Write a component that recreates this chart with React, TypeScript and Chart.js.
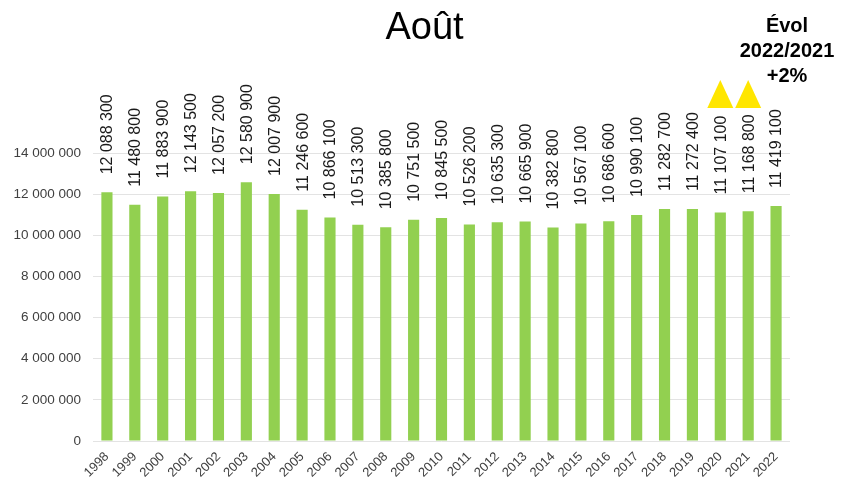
import React, { useEffect, useRef } from "react";
import { Chart, registerables } from "chart.js";

Chart.register(...registerables);

const years = ["1998","1999","2000","2001","2002","2003","2004","2005","2006","2007","2008","2009","2010","2011","2012","2013","2014","2015","2016","2017","2018","2019","2020","2021","2022"];
const visitors = [12088300,11480800,11883900,12143500,12057200,12580900,12007900,11246600,10866100,10513300,10385800,10751500,10845500,10526200,10635300,10665900,10382800,10567100,10686600,10990100,11282700,11272400,11107100,11168800,11419100];
const highlightYears = ["2020", "2021"];
const titleText = "Août";
const evolLines = ["Évol", "2022/2021", "+2%"];
const yTicks = [0, 2000000, 4000000, 6000000, 8000000, 10000000, 12000000, 14000000];

const fmt = (v: number) => String(Math.round(v)).replace(/\B(?=(\d{3})+(?!\d))/g, " ");

const FONT = "'Liberation Sans', Arial, sans-serif";

const overlayPlugin = {
  id: "overlay",
  afterDraw(chart: any) {
    const { ctx, scales } = chart;
    const x = scales.x;
    const meta = chart.getDatasetMeta(0);
    ctx.save();
    // value labels
    ctx.fillStyle = "#1a1a1a";
    ctx.font = `16px ${FONT}`;
    ctx.textAlign = "left";
    ctx.textBaseline = "middle";
    meta.data.forEach((bar: any, i: number) => {
      ctx.save();
      ctx.translate(bar.x, bar.y - 18);
      ctx.rotate(-Math.PI / 2);
      ctx.fillText(fmt(visitors[i]), 0, 1);
      ctx.restore();
    });
    // triangles
    ctx.fillStyle = "#FFE600";
    const top = chart.chartArea.top;
    highlightYears.forEach((yr) => {
      const idx = years.indexOf(yr);
      const cx = x.getPixelForValue(idx);
      ctx.beginPath();
      ctx.moveTo(cx - 13, top - 45);
      ctx.lineTo(cx + 13, top - 45);
      ctx.lineTo(cx, top - 73);
      ctx.closePath();
      ctx.fill();
    });
    // title
    ctx.fillStyle = "#000";
    ctx.font = `38px ${FONT}`;
    ctx.textAlign = "center";
    ctx.textBaseline = "alphabetic";
    ctx.fillText(titleText, chart.width / 2 + 1, 39);
    // evol text
    ctx.font = `bold 20px ${FONT}`;
    evolLines.forEach((t, i) => {
      ctx.fillText(t, 787, 32 + i * 25);
    });
    ctx.restore();
  },
};

export default function App() {
  const ref = useRef<HTMLCanvasElement>(null);
  useEffect(() => {
    if (!ref.current) return;
    const chart = new Chart(ref.current, {
      type: "bar",
      data: {
        labels: years,
        datasets: [
          {
            data: visitors,
            backgroundColor: "#92D050",
            barPercentage: 0.8,
            categoryPercentage: 0.5,
          },
        ],
      },
      options: {
        animation: false,
        responsive: true,
        maintainAspectRatio: false,
        layout: { padding: { top: 153, right: 57, left: 0, bottom: 0 } },
        plugins: {
          legend: { display: false },
          title: { display: false },
          tooltip: { enabled: false },
        },
        scales: {
          x: {
            grid: { display: false },
            border: { display: false },
            ticks: {
              color: "#404040",
              font: { family: FONT, size: 13 },
              minRotation: 45,
              maxRotation: 45,
              padding: 0,
              autoSkip: false,
            },
            afterFit: (s: any) => {
              s.height = 36;
            },
          },
          y: {
            min: 0,
            max: 14000000,
            afterBuildTicks: (s: any) => {
              s.ticks = yTicks.map((v) => ({ value: v }));
            },
            grid: { color: "#e3e3e3", drawTicks: false, lineWidth: 1 },
            border: { display: false },
            ticks: {
              color: "#404040",
              font: { family: FONT, size: 13.5 },
              padding: 12,
              callback: (v: any) => fmt(Number(v)),
            },
            afterFit: (s: any) => {
              s.width = 93;
            },
          },
        },
      },
      plugins: [overlayPlugin],
    });
    return () => chart.destroy();
  }, []);
  return (
    <div style={{ position: "fixed", left: 0, top: 0, width: 847, height: 477, background: "#fff" }}>
      <canvas ref={ref} />
    </div>
  );
}
